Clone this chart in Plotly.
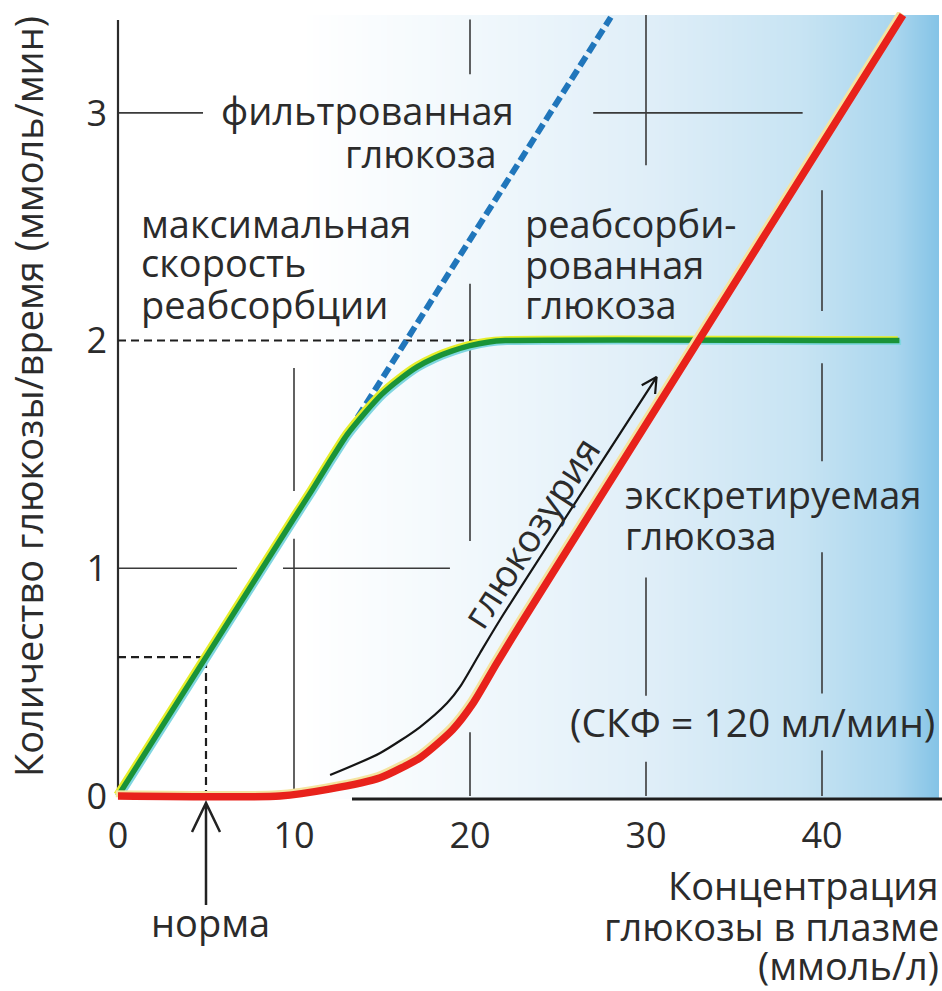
import math
import plotly.graph_objects as go

# ---------------- data ----------------
x_tick_vals = [0, 10, 20, 30, 40]
x_tick_text = ["0", "10", "20", "30", "40"]
y_tick_vals = [0, 1, 2, 3]
y_tick_text = ["0", "1", "2", "3"]

# filtered glucose (blue dashed)
filtered_x = [0, 28.0]
filtered_y = [0, 3.42]

# reabsorbed glucose (green)
reabs_x = [0, 5, 10, 11, 12, 13, 14, 15, 16, 17, 18, 19, 20, 21, 22, 44.4]
reabs_y = [0, 0.61, 1.22, 1.34, 1.465, 1.585, 1.68, 1.765, 1.83, 1.885, 1.925,
           1.955, 1.978, 1.993, 2.0, 2.0]

# excreted glucose (red)
excr_x = [0, 9.2, 12.0, 14.9, 17.2, 19.0, 20.2, 21.5, 23.0, 44.6]
excr_y = [0, 0.0, 0.03, 0.08, 0.17, 0.29, 0.41, 0.58, 0.77, 3.43]

# glucosuria arrow (black)
gluc_x = [12.05, 14.9, 17.16, 18.7, 19.43, 20.57, 21.7, 30.6]
gluc_y = [0.092, 0.189, 0.303, 0.408, 0.479, 0.628, 0.773, 1.84]

tm_level = 2.0      # maximal reabsorption rate
tm_x_end = 20.7
norm_x = 5.0
norm_y = 0.61

# partial grid segments (data units)
grid_vertical = {
    10: [(0.0, 1.13), (1.34, 1.88)],
    20: [(0.0, 0.28), (1.12, 2.25), (3.17, 3.41)],
    30: [(0.0, 0.15), (0.44, 0.96), (2.77, 3.43)],
    40: [(0.0, 0.20), (0.45, 1.07), (1.47, 1.90), (2.13, 2.66)],
}
grid_horizontal = {
    1: [(0.0, 6.76), (9.375, 18.86)],
    3: [(0.0, 4.83), (27.0, 38.9)],
}

# ---------------- geometry ----------------
W, H = 942, 991
ML, MR, MT, MB = 110, 0, 12, 186
PX_X = 17.6      # px per x unit
PX_Y = 227.7     # px per y unit
X0_PX = 118      # px of x = 0
Y0_PX = 796      # px of y = 0
PW = W - ML - MR
PH = H - MT - MB
x_range = [(ML - X0_PX) / PX_X, (W - MR - X0_PX) / PX_X]
y_range = [(Y0_PX - (H - MB)) / PX_Y, (Y0_PX - MT) / PX_Y]


def dx(px):
    return (px - X0_PX) / PX_X


def dy(py):
    return (Y0_PX - py) / PX_Y


def pxp(px):
    return (px - ML) / PW


def pyp(py):
    return (H - MB - py) / PH


FONT = "Open Sans"
TXT = "#2b2b2b"
FS = 38

fig = go.Figure()

# background gradient (white -> light blue)
n = 160
gx0, gx1 = dx(300), dx(939)
edges = [gx0 + (gx1 - gx0) * i / n for i in range(n + 1)]
centers = [(i + 0.5) / n for i in range(n)]
fig.add_trace(go.Heatmap(
    x=edges, y=[dy(799), dy(15)], z=[centers], zmin=0, zmax=1,
    colorscale=[[0, "#ffffff"], [0.27, "#f1f8fc"], [0.55, "#dfeef8"],
                [0.78, "#c8e4f3"], [0.93, "#aad6ee"], [1, "#84c3e6"]],
    showscale=False, hoverinfo="skip", zsmooth="best"))

# grid segments
gxs, gys = [], []
for xv, segs in grid_vertical.items():
    for a, b in segs:
        gxs += [xv, xv, None]
        gys += [a, b, None]
for yv, segs in grid_horizontal.items():
    for a, b in segs:
        gxs += [a, b, None]
        gys += [yv, yv, None]
fig.add_trace(go.Scatter(x=gxs, y=gys, mode="lines",
                         line=dict(color="#3a3a3a", width=1.6),
                         hoverinfo="skip", showlegend=False))

# axis lines
fig.add_trace(go.Scatter(x=[0, 0], y=[0, dy(20)], mode="lines",
                         line=dict(color="#2b2b2b", width=2.2),
                         hoverinfo="skip", showlegend=False))
fig.add_trace(go.Scatter(x=[dx(352), dx(942)], y=[dy(799), dy(799)], mode="lines",
                         line=dict(color="#1e1e1e", width=3),
                         hoverinfo="skip", showlegend=False))

# black dashed guide lines
fig.add_trace(go.Scatter(x=[0, tm_x_end], y=[tm_level, tm_level], mode="lines",
                         line=dict(color="#1e1e1e", width=2, dash="8px,5px"),
                         hoverinfo="skip", showlegend=False))
fig.add_trace(go.Scatter(x=[0, norm_x, norm_x], y=[norm_y, norm_y, 0], mode="lines",
                         line=dict(color="#1e1e1e", width=2.2, dash="8px,5px"),
                         hoverinfo="skip", showlegend=False))

# filtered glucose (blue dashed)
fig.add_trace(go.Scatter(x=filtered_x, y=filtered_y, mode="lines",
                         line=dict(color="#2076bb", width=6, dash="11px,5px"),
                         hoverinfo="skip", showlegend=False))

# reabsorbed glucose (green, with yellow/cyan edges)
off_x, off_y = 1.7 / PX_X, 1.7 / PX_Y
fig.add_trace(go.Scatter(x=[v + off_x for v in reabs_x], y=[v - off_y for v in reabs_y],
                         mode="lines", line=dict(color="#7fd6e0", width=5.5, shape="spline", smoothing=0.6),
                         hoverinfo="skip", showlegend=False))
fig.add_trace(go.Scatter(x=[v - off_x for v in reabs_x], y=[v + off_y for v in reabs_y],
                         mode="lines", line=dict(color="#e6ee2a", width=5.5, shape="spline", smoothing=0.6),
                         hoverinfo="skip", showlegend=False))
fig.add_trace(go.Scatter(x=reabs_x, y=reabs_y, mode="lines",
                         line=dict(color="#1a9338", width=5.5, shape="spline", smoothing=0.6),
                         hoverinfo="skip", showlegend=False))

# excreted glucose (red, with pale edge)
fig.add_trace(go.Scatter(x=[v - off_x * 1.3 for v in excr_x], y=[v + off_y * 1.3 for v in excr_y],
                         mode="lines", line=dict(color="#f4e4a0", width=7, shape="spline", smoothing=0.6),
                         hoverinfo="skip", showlegend=False))
fig.add_trace(go.Scatter(x=excr_x, y=excr_y, mode="lines",
                         line=dict(color="#e8221b", width=7.5, shape="spline", smoothing=0.6),
                         hoverinfo="skip", showlegend=False))

# glucosuria arrow
fig.add_trace(go.Scatter(x=gluc_x, y=gluc_y, mode="lines",
                         line=dict(color="#151515", width=2.2, shape="spline", smoothing=0.7),
                         hoverinfo="skip", showlegend=False))
tip_px = (X0_PX + gluc_x[-1] * PX_X, Y0_PX - gluc_y[-1] * PX_Y)
prev_px = (X0_PX + gluc_x[-2] * PX_X, Y0_PX - gluc_y[-2] * PX_Y)
ux, uy = tip_px[0] - prev_px[0], tip_px[1] - prev_px[1]
ln = math.hypot(ux, uy)
ux, uy = ux / ln, uy / ln
head_x, head_y = [], []
for ang in (28, -28):
    a = math.radians(ang)
    rx = (-ux) * math.cos(a) - (-uy) * math.sin(a)
    ry = (-ux) * math.sin(a) + (-uy) * math.cos(a)
    head_x.append(dx(tip_px[0] + 17 * rx))
    head_y.append(dy(tip_px[1] + 17 * ry))
fig.add_trace(go.Scatter(x=[head_x[0], gluc_x[-1], head_x[1]],
                         y=[head_y[0], gluc_y[-1], head_y[1]], mode="lines",
                         line=dict(color="#151515", width=2.2),
                         hoverinfo="skip", showlegend=False))

annotations = []


def add_line(text, px, py, anchor="left", ref="data", size=FS, angle=0):
    if ref == "data":
        xv, yv, xr, yr = dx(px), dy(py), "x", "y"
    else:
        xv, yv, xr, yr = pxp(px), pyp(py), "paper", "paper"
    annotations.append(dict(text=text, x=xv, y=yv, xref=xr, yref=yr,
                            xanchor=anchor, yanchor="middle", showarrow=False,
                            textangle=angle,
                            font=dict(family=FONT, size=size, color=TXT)))


# labels inside the plot (x px of left edge, y px of line centre)
add_line("фильтрованная", 219, 110)
add_line("глюкоза", 343, 153)
add_line("максимальная", 139, 223)
add_line("скорость", 139, 262)
add_line("реабсорбции", 139, 304)
add_line("реабсорби-", 523, 223)
add_line("рованная", 523, 264)
add_line("глюкоза", 523, 304)
add_line("экскретируемая", 623, 494)
add_line("глюкоза", 623, 535)
add_line("(СКФ = 120 мл/мин)", 937, 721, anchor="right", size=39)
add_line("глюкозурия", 530, 532, anchor="center", angle=-57)

# labels outside
add_line("Концентрация", 941, 885, anchor="right", ref="paper")
add_line("глюкозы в плазме", 941, 926, anchor="right", ref="paper")
add_line("(ммоль/л)", 941, 965, anchor="right", ref="paper")
add_line("норма", 210, 922, anchor="center", ref="paper")
annotations.append(dict(text="Количество глюкозы/время (ммоль/мин)",
                        x=pxp(28), y=pyp(397), xref="paper", yref="paper",
                        xanchor="center", yanchor="middle", showarrow=False,
                        textangle=-90, font=dict(family=FONT, size=FS, color=TXT)))

# norm arrow (below the axis)
wing = 14 / PX_X
norm_path = (f"M {norm_x},{pyp(905)} L {norm_x},{pyp(803)} "
             f"M {norm_x - wing},{pyp(832)} L {norm_x},{pyp(803)} L {norm_x + wing},{pyp(832)}")
shapes = [dict(type="path", path=norm_path, xref="x", yref="paper",
               line=dict(color="#222222", width=2.5))]

fig.update_layout(
    width=W, height=H,
    margin=dict(l=ML, r=MR, t=MT, b=MB, pad=0),
    paper_bgcolor="white", plot_bgcolor="white",
    showlegend=False,
    annotations=annotations, shapes=shapes,
    xaxis=dict(range=x_range, tickvals=x_tick_vals, ticktext=x_tick_text,
               showgrid=False, zeroline=False, showline=False, ticks="",
               tickfont=dict(family=FONT, size=36, color=TXT),
               ticklabelstandoff=6, fixedrange=True),
    yaxis=dict(range=y_range, tickvals=y_tick_vals, ticktext=y_tick_text,
               showgrid=False, zeroline=False, showline=False, ticks="",
               tickfont=dict(family=FONT, size=36, color=TXT),
               ticklabelstandoff=2, fixedrange=True),
)

fig.write_html("out.html", config={"displayModeBar": False},
               post_script="document.body.style.margin='0px';document.body.style.overflow='hidden';")
